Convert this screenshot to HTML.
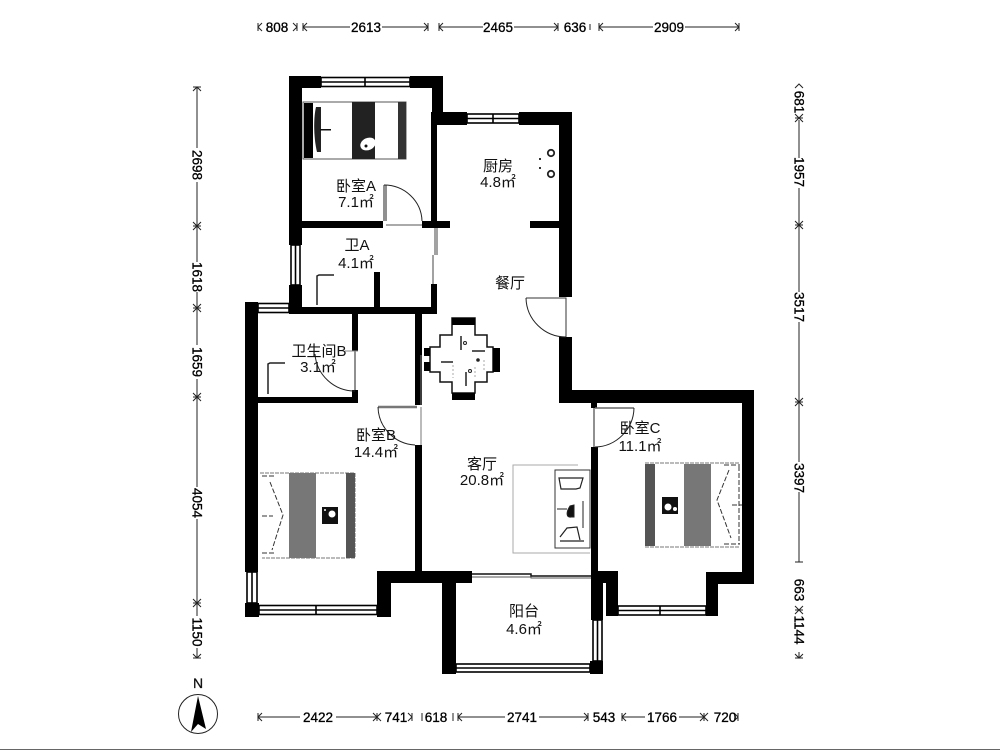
<!DOCTYPE html>
<html><head><meta charset="utf-8">
<style>html,body{margin:0;padding:0;background:#fff}svg{display:block;filter:blur(.35px)}
.d{font:13.500px "Liberation Sans",sans-serif;fill:#000;stroke:#000;stroke-width:.3;text-anchor:middle}
.t{font:15px "Liberation Sans","Noto Sans CJK SC",sans-serif;fill:#111;text-anchor:middle}
.l{stroke:#222;stroke-width:1;fill:none}
.w{fill:#fff;stroke:#000;stroke-width:1.600}
.a{stroke:#222;stroke-width:1;fill:none}
</style></head><body>
<svg width="1000" height="750" viewBox="0 0 1000 750" xmlns="http://www.w3.org/2000/svg">
<rect width="1000" height="750" fill="#fff"/>

<!-- windows -->
<g class="w">
<rect x="321" y="77.500" width="89" height="9"/><path d="M321 82H410M365 77V87"/>
<rect x="467" y="114" width="52" height="9"/><path d="M467 118.500H519M493 114V123"/>
<rect x="291" y="245" width="9" height="40"/><path d="M295.500 245V285"/>
<rect x="258" y="303.500" width="31" height="9"/><path d="M258 308H289"/>
<rect x="247" y="572" width="10" height="31"/><path d="M252 572V603"/>
<rect x="259" y="605.500" width="118" height="9"/><path d="M259 610H377M316 605V615"/>
<rect x="456" y="664" width="134" height="8"/><path d="M456 668H590"/>
<rect x="593" y="620" width="9" height="41"/><path d="M597.500 620V661"/>
<rect x="618" y="606" width="88" height="9"/><path d="M618 610.500H706M660 606V615"/>
</g>

<!-- walls -->
<g fill="#000">
<rect x="289" y="76" width="32" height="12"/>
<rect x="410" y="76" width="33" height="12"/>
<rect x="289" y="76" width="13" height="169"/>
<rect x="432" y="76" width="11" height="48"/>
<rect x="431" y="112" width="6" height="109"/>
<rect x="437" y="112" width="30" height="13"/>
<rect x="519" y="112" width="53" height="13"/>
<rect x="559" y="112" width="13" height="185"/>
<rect x="302" y="221" width="81" height="7"/>
<rect x="422" y="221" width="28" height="7"/>
<rect x="530" y="221" width="29" height="7"/>
<rect x="289" y="285" width="13" height="28"/>
<rect x="289" y="307" width="148" height="7"/>
<rect x="431" y="284" width="6" height="29"/>
<rect x="374" y="272" width="6" height="36"/>
<rect x="245" y="302" width="13" height="270"/>
<rect x="245" y="603" width="14" height="14"/>
<rect x="352" y="313" width="6" height="38"/>
<rect x="352" y="390" width="6" height="13"/>
<rect x="258" y="397" width="100" height="6"/>
<rect x="415" y="313" width="7" height="92"/>
<rect x="415" y="445" width="7" height="128"/>
<rect x="377" y="572" width="14" height="45"/>
<rect x="377" y="571" width="95" height="12"/>
<rect x="442" y="571" width="14" height="103"/>
<rect x="559" y="337" width="13" height="66"/>
<rect x="559" y="390" width="195" height="13"/>
<rect x="742" y="390" width="12" height="194"/>
<rect x="706" y="572" width="48" height="12"/>
<rect x="706" y="572" width="12" height="44"/>
<rect x="591" y="403" width="6" height="5"/>
<rect x="591" y="447" width="7" height="125"/>
<rect x="591" y="571" width="27" height="12"/>
<rect x="606" y="571" width="12" height="45"/>
<rect x="591" y="571" width="12" height="49"/>
<rect x="590" y="661" width="13" height="13"/>
</g>
<path d="M472 574H531V576H591" fill="none" stroke="#111" stroke-width="1.500"/>
<path d="M472 577H531V578H591" fill="none" stroke="#555" stroke-width="1"/>
<path d="M435 228V255M433 255V284M437 228V255" stroke="#444" stroke-width="1" fill="none"/>
<path d="M421 355V405" stroke="#777" fill="none"/>

<!-- doors -->
<g class="a">
<path d="M384 185V221M386 185V221"/>
<path d="M384 185A38 37 0 0 1 422 221"/>
<path d="M386 225H422" stroke="#555"/>
<path d="M526 298H566V337" stroke="#333"/>
<path d="M526 298A40 40 0 0 0 566 337"/>
<path d="M355 351V390"/>
<path d="M358 351H345" stroke="#888"/>
<path d="M355 391A40 40 0 0 1 315 354"/>
<path d="M378 407H417" stroke="#777" stroke-width="2.500"/>
<path d="M378 407A39 39 0 0 0 415 445"/>
<path d="M421 407V445" stroke="#777"/>
<path d="M595 408H634" stroke="#666" stroke-width="1.500"/>
<path d="M594 408V447"/>
<path d="M634 408A40 40 0 0 1 595 447"/>
<path d="M317 305V276L319 275H334" stroke-width="1.500"/>
<path d="M268 394V364L270 363H285" stroke-width="1.500"/>
</g>

<!-- bed A -->
<rect x="303" y="102" width="103" height="57" fill="#fff" stroke="#555"/>
<rect x="304" y="103" width="9" height="55" fill="#000"/>
<rect x="352" y="102" width="23" height="57" fill="#222"/>
<rect x="398" y="102" width="8" height="57" fill="#333"/>
<path d="M316 107C313 120 314 140 317 152L321 152V107Z" fill="#222"/>
<rect x="320" y="129" width="11" height="1.500" fill="#111"/>
<ellipse cx="368" cy="144" rx="8" ry="6" fill="#fff" transform="rotate(-25 368 144)"/>
<circle cx="366" cy="146" r="1.500" fill="#111"/>

<!-- bed B -->
<rect x="260" y="473" width="95" height="85" fill="#fff"/>
<path d="M260 473H355V558H262" fill="none" stroke="#777" stroke-dasharray="4 1"/>
<rect x="289" y="473" width="27" height="85" fill="#777"/>
<rect x="346" y="473" width="9" height="85" fill="#555"/>
<rect x="322" y="507" width="16" height="17" fill="#111"/>
<circle cx="332" cy="514" r="3.500" fill="#fff"/><circle cx="325" cy="510" r="1" fill="#fff"/>
<path d="M270 482L283 515L272 550M262 516H273M262 476H276M262 553H276" fill="none" stroke="#333" stroke-dasharray="5 2"/>

<!-- bed C -->
<rect x="645" y="463" width="95" height="84" fill="#fff"/>
<path d="M645 463H740M645 547H740" stroke="#777" stroke-dasharray="4 1"/>
<rect x="645" y="464" width="10" height="82" fill="#555"/>
<rect x="684" y="464" width="27" height="82" fill="#777"/>
<rect x="662" y="497" width="16" height="17" fill="#111"/>
<circle cx="668" cy="507" r="3.500" fill="#fff"/><circle cx="675" cy="509" r="2" fill="#fff"/>
<path d="M729 470L717 500L731 538M732 505H742M724 465H740M724 544H740M739 466V544" fill="none" stroke="#333" stroke-dasharray="5 2"/>

<!-- kitchen -->
<circle cx="551" cy="153" r="3.200" fill="#fff" stroke="#222" stroke-width="1.800"/>
<circle cx="551" cy="174" r="3.200" fill="#fff" stroke="#222" stroke-width="1.800"/>
<rect x="539" y="158" width="2" height="2" fill="#333"/><rect x="539" y="167" width="2" height="2" fill="#333"/>

<!-- dining table -->
<path d="M452 318H475V335H487V347H493V372H487V382H475V393H452V382H440V372H430V347H440V335H452Z" fill="#fff" stroke="#111" stroke-width="1.500"/>
<rect x="452" y="318" width="23" height="7" fill="#000"/>
<rect x="452" y="393" width="23" height="7" fill="#000"/>
<rect x="493" y="348" width="7" height="24" fill="#000"/>
<rect x="424" y="348" width="6" height="8" fill="#000"/>
<rect x="424" y="362" width="6" height="9" fill="#000"/>
<path d="M461 336V350M466 372V386M472 351H485M441 362H453" stroke="#222" stroke-width="1.500"/>
<circle cx="465" cy="343" r="1.500" fill="none" stroke="#222"/><circle cx="478" cy="360" r="1.800" fill="#222"/><circle cx="470" cy="371" r="1.500" fill="none" stroke="#222"/>
<path d="M453 365V378M484 360V370M475 367V378" stroke="#aaa" stroke-dasharray="2 2"/>

<!-- sofa / rug -->
<path d="M578 465H513V553H590" fill="none" stroke="#aaa"/>
<rect x="555" y="470" width="35" height="78" fill="#fff" stroke="#333" stroke-width="1"/>
<path d="M559 478H583L580 488L576 489H561Z" fill="#fff" stroke="#222" stroke-width="1.200"/>
<path d="M557 509H567M583 501V528M570 506C566 512 566 518 571 517H574V505Z" fill="#111" stroke="#222" stroke-width="1"/>
<path d="M560 537L567 528L577 527L580 540M560 541H584" fill="none" stroke="#222" stroke-width="1.200"/>

<!-- labels -->
<text class="t" x="356" y="191">卧室A</text><text class="t" x="356" y="207">7.1㎡</text>
<text class="t" x="498" y="171">厨房</text><text class="t" x="498" y="187">4.8㎡</text>
<text class="t" x="357" y="250">卫A</text><text class="t" x="356" y="268">4.1㎡</text>
<text class="t" x="510" y="288">餐厅</text>
<text class="t" x="319" y="356">卫生间B</text><text class="t" x="318" y="372">3.1㎡</text>
<text class="t" x="376" y="440">卧室B</text><text class="t" x="376" y="457">14.4㎡</text>
<text class="t" x="482" y="469">客厅</text><text class="t" x="482" y="485">20.8㎡</text>
<text class="t" x="640" y="433">卧室C</text><text class="t" x="640" y="451">11.1㎡</text>
<text class="t" x="524" y="616">阳台</text><text class="t" x="524" y="634">4.6㎡</text>

<!-- top dims -->
<g class="l">
<path d="M303 27H350M382 27H428M439 27H483M514 27H558M599 27H653M685 27H739"/>
<path d="M262 23L258 27L262 31M258 23V31M293 23L297 27L293 31M297 23V31M307 23L303 27L307 31M303 23V31M424 23L428 27L424 31M428 23V31M443 23L439 27L443 31M439 23V31M554 23L558 27L554 31M558 23V31M603 23L599 27L603 31M599 23V31M735 23L739 27L735 31M739 23V31M590 24V30"/>
</g>
<text class="d" x="277" y="32">808</text><text class="d" x="366" y="32">2613</text><text class="d" x="498" y="32">2465</text><text class="d" x="575" y="32">636</text><text class="d" x="669" y="32">2909</text>

<!-- bottom dims -->
<g class="l">
<path d="M258 717H300M336 717H377M458 717H505M539 717H588M622 717H645M679 717H704"/>
<path d="M262 713L258 717L262 721M258 713V721M373 713L377 717L373 721M381 713L377 717L381 721M377 713V721M408 713L412 717L408 721M412 713V721M422 713V721M453 713V721M458 713V721M462 713L458 717L462 721M584 713L588 717L584 721M588 713V721M622 713V721M626 713L622 717L626 721M700 713L704 717L700 721M708 713L704 717L708 721M704 713V721M734 713L738 717L734 721M738 713V721"/>
</g>
<text class="d" x="318" y="722">2422</text><text class="d" x="396" y="722">741</text><text class="d" x="436" y="722">618</text><text class="d" x="522" y="722">2741</text><text class="d" x="604" y="722">543</text><text class="d" x="662" y="722">1766</text><text class="d" x="725" y="722">720</text>

<!-- left dims -->
<g class="l">
<path d="M197 87V148M197 182V262M197 292V345M197 379V487M197 519V616M197 648V658"/>
<path d="M193 91L197 87L201 91M193 87H201M193 222L197 226L201 222M193 226H201M193 230L197 226L201 230M193 304L197 308L201 304M193 308H201M193 312L197 308L201 312M193 393L197 397L201 393M193 397H201M193 401L197 397L201 401M193 599L197 603L201 599M193 603H201M193 607L197 603L201 607M193 654L197 658L201 654M193 658H201"/>
</g>
<text class="d" transform="translate(192.500 165) rotate(90)" x="0" y="0">2698</text>
<text class="d" transform="translate(192.500 277) rotate(90)" x="0" y="0">1618</text>
<text class="d" transform="translate(192.500 362) rotate(90)" x="0" y="0">1659</text>
<text class="d" transform="translate(192.500 503) rotate(90)" x="0" y="0">4054</text>
<text class="d" transform="translate(192.500 632) rotate(90)" x="0" y="0">1150</text>

<!-- right dims -->
<g class="l">
<path d="M799 120V158M799 188V292M799 322V462M799 492V562M799 652V658"/>
<path d="M795 122L799 118L803 122M795 118H803M795 114L799 118L803 114M795 221L799 225L803 221M795 225H803M795 229L799 225L803 229M795 398L799 402L803 398M795 402H803M795 406L799 402L803 406M795 562H803M795 606L799 610L803 606M795 610H803M795 614L799 610L803 614M795 654L799 658L803 654M795 658H803M795 88L799 84L803 88"/>
</g>
<text class="d" transform="translate(794.500 102) rotate(90)" x="0" y="0">681</text>
<text class="d" transform="translate(794.500 172) rotate(90)" x="0" y="0">1957</text>
<text class="d" transform="translate(794.500 307) rotate(90)" x="0" y="0">3517</text>
<text class="d" transform="translate(794.500 478) rotate(90)" x="0" y="0">3397</text>
<text class="d" transform="translate(794.500 590) rotate(90)" x="0" y="0">663</text>
<text class="d" transform="translate(794.500 630) rotate(90)" x="0" y="0">1144</text>

<!-- compass -->
<circle cx="198" cy="714" r="19.500" fill="#fff" stroke="#222" stroke-width="1"/>
<path d="M198 696L206 729L198 724L191 732Z" fill="#000"/>
<text x="198" y="688" font-family="Liberation Sans,sans-serif" font-size="14" fill="#111" stroke="#111" stroke-width=".3" text-anchor="middle">N</text>

<rect x="0" y="749" width="1000" height="1" fill="#666"/>
</svg>
</body></html>
